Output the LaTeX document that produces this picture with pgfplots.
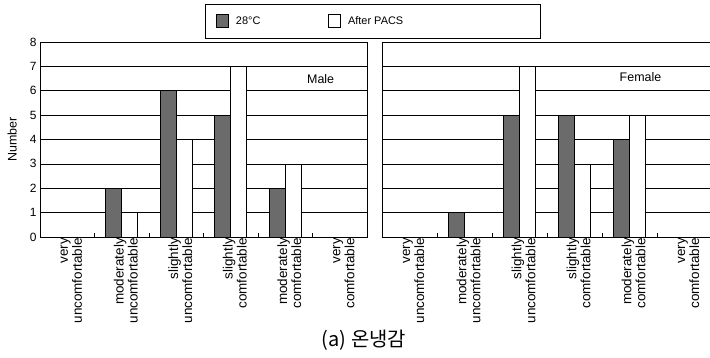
\documentclass[border=0pt]{standalone}
\usepackage{pgfplots}
\pgfplotsset{compat=1.18}
\usepackage{fontspec}
\setmainfont{Liberation Sans}
\newfontfamily\kr{Noto Sans CJK KR}
\definecolor{darkbar}{gray}{0.42}

\pgfplotstableread{
x t28 after
1 2 1
2 6 4
3 5 7
4 2 3
}\male
\pgfplotstableread{
x t28
1 1
2 5
3 5
4 4
}\femaleA
\pgfplotstableread{
x after
2 7
3 3
4 5
}\femaleB

\pgfplotsset{panel/.style={
  scale only axis, height=195bp,
  ymin=0, ymax=8, ytick={0,...,8},
  xmin=-0.5, xmax=5.5, xtick={0,...,5},
  minor xtick={0.5,1.5,2.5,3.5,4.5},
  xticklabels={{very\\uncomfortable},{moderately\\uncomfortable},{slightly\\uncomfortable},{slightly\\comfortable},{moderately\\comfortable},{very\\comfortable}},
  xtick pos=bottom, ytick pos=left,
  ybar=0pt, bar width=16bp,
  ymajorgrids, grid style={black, line width=0.6bp},
  axis line style={line width=0.8bp},
  major tick length=0pt, minor tick length=4bp, tick align=inside,
  tick style={black, line width=0.6bp},
  /pgf/number format/assume math mode=true,
  xticklabel style={rotate=90, anchor=east, align=right, font=\fontsize{13.5}{14}\selectfont, inner sep=1bp, yshift=-4bp},
  yticklabel style={font=\fontsize{12}{14}\selectfont},
  enlargelimits=false, clip=false,
}}

\begin{document}
\begin{tikzpicture}
\useasboundingbox (0bp,0bp) rectangle (710bp,358bp);
\begin{axis}[panel, at={(40bp,121bp)}, anchor=south west, width=327bp,
  ylabel={Number}, ylabel style={font=\fontsize{12.5}{14}\selectfont, at={(axis description cs:-0.085,0.5)}, anchor=center},
  legend columns=2,
  legend style={at={(axis description cs:0.5046,1.0154)}, anchor=south west, draw=black, line width=0.8bp, fill=white,
    font=\fontsize{11}{13}\selectfont, inner xsep=11bp, inner ysep=10.5bp,
    /tikz/every odd column/.append style={column sep=5bp},
    /tikz/every even column/.append style={column sep=66bp}},
  legend image code/.code={\draw[#1, line width=0.6bp] (0bp,-6.5bp) rectangle (12bp,6.5bp);},
]
\addplot[fill=darkbar, draw=black, line width=0.6bp] table[x=x,y=t28]{\male};
\addlegendentry{28°C}
\addplot[fill=white, draw=black, line width=0.6bp] table[x=x,y=after]{\male};
\addlegendentry{After PACS\rule{0pt}{0pt}\hspace*{124bp}}
\node[font=\fontsize{12.5}{14}\selectfont, fill=white, inner sep=1bp] at (axis cs:4.65,6.5) {Male};
\end{axis}
\begin{axis}[panel, at={(382bp,121bp)}, anchor=south west, width=330bp,
  yticklabels={}, ]
\addplot[fill=darkbar, draw=black, line width=0.6bp, bar shift=-8bp] table[x=x,y=t28]{\femaleA};
\addplot[fill=white, draw=black, line width=0.6bp, bar shift=8bp] table[x=x,y=after]{\femaleB};
\node[font=\fontsize{12.5}{14}\selectfont, fill=white, inner sep=1bp] at (axis cs:4.2,6.55) {Female};
\end{axis}
\node[font=\kr\fontsize{20}{24}\selectfont] at (364bp,18bp) {(a) 온냉감};
\end{tikzpicture}
\end{document}
